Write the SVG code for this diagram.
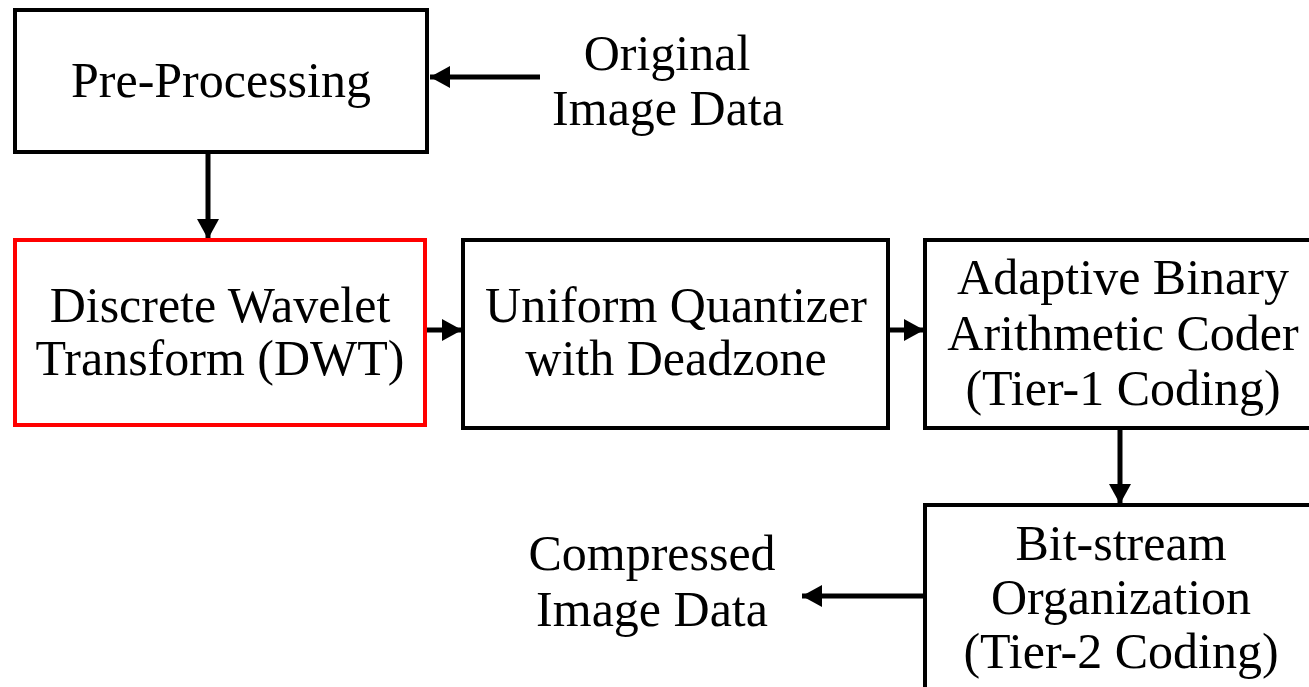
<svg xmlns="http://www.w3.org/2000/svg" width="1309" height="687" viewBox="0 0 1309 687">
<style>
.box{fill:#fff;stroke:#000;stroke-width:4}
.red{stroke:#f00}
.t{font-family:"Liberation Serif","Times New Roman",serif;font-size:50px;fill:#000;text-anchor:middle}
.c{stroke:#000;stroke-width:5;fill:none}
</style>
<defs>
<marker id="ah" markerUnits="userSpaceOnUse" markerWidth="22" markerHeight="22" refX="20" refY="11" orient="auto">
<path d="M0,0 L20,11 L0,22 Z" fill="#000"/>
</marker>
</defs>
<rect width="1309" height="687" fill="#fff"/>
<g id="connectors">
<line class="c" x1="540" y1="77" x2="430" y2="77" marker-end="url(#ah)"/>
<line class="c" x1="208" y1="152" x2="208" y2="239" marker-end="url(#ah)"/>
<line class="c" x1="425" y1="330" x2="462" y2="330" marker-end="url(#ah)"/>
<line class="c" x1="888" y1="330" x2="924" y2="330" marker-end="url(#ah)"/>
<line class="c" x1="1120" y1="428" x2="1120" y2="504" marker-end="url(#ah)"/>
<line class="c" x1="925" y1="596" x2="802" y2="596" marker-end="url(#ah)"/>
</g>
<g id="preprocessing">
<rect class="box" x="15" y="10" width="412" height="142"/>
<text class="t" x="221" y="97">Pre-Processing</text>
</g>
<g id="original">
<text class="t" x="667" y="70">Original</text>
<text class="t" x="668" y="125">Image Data</text>
</g>
<g id="dwt">
<rect class="box red" x="15" y="240" width="410" height="185"/>
<text class="t" x="220" y="322">Discrete Wavelet</text>
<text class="t" x="220" y="375">Transform (DWT)</text>
</g>
<g id="quantizer">
<rect class="box" x="463" y="240" width="425" height="188"/>
<text class="t" x="676" y="322">Uniform Quantizer</text>
<text class="t" x="676" y="375">with Deadzone</text>
</g>
<g id="tier1">
<rect class="box" x="925" y="240" width="420" height="188"/>
<text class="t" x="1123" y="294">Adaptive Binary</text>
<text class="t" x="1123" y="350">Arithmetic Coder</text>
<text class="t" x="1123" y="405">(Tier-1 Coding)</text>
</g>
<g id="tier2">
<rect class="box" x="925" y="505" width="420" height="220"/>
<text class="t" x="1121" y="560">Bit-stream</text>
<text class="t" x="1121" y="614">Organization</text>
<text class="t" x="1121" y="668">(Tier-2 Coding)</text>
</g>
<g id="compressed">
<text class="t" x="652" y="570">Compressed</text>
<text class="t" x="652" y="626">Image Data</text>
</g>
</svg>
